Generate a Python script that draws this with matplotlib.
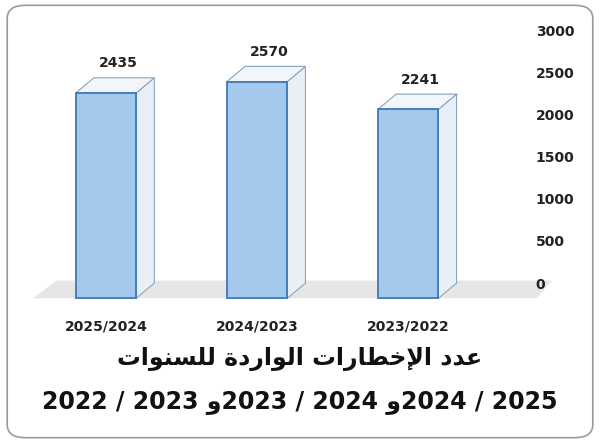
import matplotlib
matplotlib.use("Agg")
import matplotlib.pyplot as plt
from matplotlib.patches import Polygon, FancyBboxPatch

categories = ["2025/2024", "2024/2023", "2023/2022"]
values = [2435, 2570, 2241]
yticks = [0, 500, 1000, 1500, 2000, 2500, 3000]
title1 = "عدد الإخطارات الواردة للسنوات"
title2 = "2022 / 2023 و2023 / 2024 و2024 / 2025"

# minimal Arabic shaper (isolated, final, initial, medial)
F = {'ا': (0xFE8D, 0xFE8E, None, None), 'إ': (0xFE87, 0xFE88, None, None),
     'ت': (0xFE95, 0xFE96, 0xFE97, 0xFE98), 'خ': (0xFEA5, 0xFEA6, 0xFEA7, 0xFEA8),
     'د': (0xFEA9, 0xFEAA, None, None), 'ر': (0xFEAD, 0xFEAE, None, None),
     'س': (0xFEB1, 0xFEB2, 0xFEB3, 0xFEB4), 'ط': (0xFEC1, 0xFEC2, 0xFEC3, 0xFEC4),
     'ع': (0xFEC9, 0xFECA, 0xFECB, 0xFECC), 'ل': (0xFEDD, 0xFEDE, 0xFEDF, 0xFEE0),
     'ن': (0xFEE5, 0xFEE6, 0xFEE7, 0xFEE8), 'و': (0xFEED, 0xFEEE, None, None),
     'ة': (0xFE93, 0xFE94, None, None)}
LA = {'ا': (0xFEFB, 0xFEFC), 'إ': (0xFEF9, 0xFEFA)}

def shape(text):
    chars = list(text)
    units = []
    i = 0
    while i < len(chars):
        c = chars[i]
        if c == 'ل' and i + 1 < len(chars) and chars[i + 1] in LA:
            units.append(('LA', chars[i + 1])); i += 2
        else:
            units.append(('C', c)); i += 1
    def joins_next(u):
        if u[0] == 'LA': return False
        return u[1] in F and F[u[1]][2] is not None
    def joins_prev(u):
        return u[0] == 'LA' or u[1] in F
    out = []
    for k, u in enumerate(units):
        prev = units[k - 1] if k > 0 else None
        nxt = units[k + 1] if k + 1 < len(units) else None
        jp = prev is not None and joins_next(prev) and joins_prev(u)
        jn = nxt is not None and joins_next(u) and joins_prev(nxt)
        if u[0] == 'LA':
            out.append(chr(LA[u[1]][1 if jp else 0])); continue
        c = u[1]
        if c not in F:
            out.append(c); continue
        iso, fin, ini, med = F[c]
        if jp and jn and med: out.append(chr(med))
        elif jp: out.append(chr(fin))
        elif jn and ini: out.append(chr(ini))
        else: out.append(chr(iso))
    return ''.join(reversed(out))

fig = plt.figure(figsize=(6, 4.43), dpi=100)
fig.add_artist(FancyBboxPatch((0.012, 0.012), 0.976, 0.976, boxstyle="round,pad=0,rounding_size=0.03",
                              transform=fig.transFigure, fill=False, ec="#9a9a9a", lw=1.2))
ax = fig.add_axes([0.05, 0.361, 0.792, 0.571])
ax.set_xlim(-0.503, 2.642)
ax.set_ylim(0, 3000)
for s in ax.spines.values():
    s.set_visible(False)
ax.yaxis.tick_right()
ax.set_yticks(yticks)
ax.set_yticklabels([str(t) for t in yticks], fontsize=10, fontweight="bold", color="#222")
ax.tick_params(axis="y", length=0, pad=22)
ax.set_xticks([])

ax.add_patch(Polygon([(-0.48, -180), (2.85, -180), (2.95, 30), (-0.33, 30)], closed=True,
                     fc="#e6e6e6", ec="none", clip_on=False, zorder=0))

w, dx, dy = 0.40, 0.12, 180
for i, (cat, v) in enumerate(zip(categories, values)):
    x0 = i - w / 2
    y0 = -dy
    y1 = v - dy
    ax.plot([x0 + dx, x0 + dx, x0 + w + dx], [0, v, v], color="#9ab0c8", lw=0.8, clip_on=False, zorder=1)
    ax.plot([x0, x0 + dx], [y0, 0], color="#9ab0c8", lw=0.8, clip_on=False, zorder=1)
    ax.add_patch(Polygon([(x0 + w, y0), (x0 + w + dx, 0), (x0 + w + dx, v), (x0 + w, y1)],
                         fc="#e8eff6", ec="#8aa6c4", lw=0.8, clip_on=False, zorder=2))
    ax.add_patch(Polygon([(x0, y1), (x0 + dx, v), (x0 + w + dx, v), (x0 + w, y1)],
                         fc="#f2f6fa", ec="#8aa6c4", lw=0.8, clip_on=False, zorder=2))
    ax.add_patch(Polygon([(x0, y0), (x0 + w, y0), (x0 + w, y1), (x0, y1)],
                         fc="#a5c9ec", ec="#3d79b8", lw=1.3, clip_on=False, zorder=3))
    ax.text(i + 0.08, v + 90, str(v), ha="center", va="bottom", fontsize=10,
            fontweight="bold", color="#222")
    ax.text(i, -430, cat, ha="center", va="top", fontsize=10, fontweight="bold",
            color="#222", clip_on=False)

fig.text(0.5, 0.19, shape(title1), ha="center", va="center", fontsize=17,
         fontweight="bold", family="DejaVu Sans", color="#111")
fig.text(0.5, 0.093, title2, ha="center", va="center", fontsize=17,
         fontweight="bold", family="DejaVu Sans", color="#111")
fig.savefig("out.png", dpi=100)
